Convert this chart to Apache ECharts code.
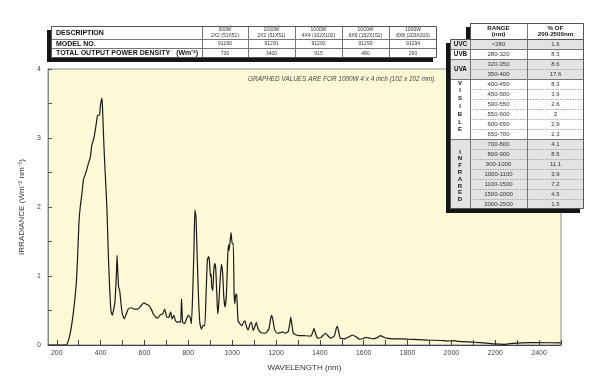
<!DOCTYPE html>
<html><head><meta charset="utf-8">
<script src="https://cdn.jsdelivr.net/npm/echarts@6/dist/echarts.min.js"></script>
<style>html,body{margin:0;padding:0;background:#fff;}#c{width:600px;height:384px;}</style>
</head><body><div id="c"></div>
<script>
// ---- spectrum data ----
const wavelengthNm = [160,200,240,248,261,276,289,295,301,307,315,322,334,345,353,360,368,376,383,386,395,398,405,408,414,418,424,429,435,441,447,453,460,466,472,475,478,482,487,493,499,508,517,526,539,554,569,582,597,609,621,631,640,650,661,673,683,692,701,711,719,726,734,742,750,757,765,769,774,783,792,800,808,814,820,826,830,835,841,847,853,860,866,875,881,887,892,896,901,904,907,912,916,921,925,930,934,939,945,951,957,962,968,974,979,983,986,991,995,1000,1005,1009,1012,1017,1021,1027,1035,1044,1052,1058,1066,1073,1082,1088,1096,1103,1110,1118,1130,1153,1168,1176,1180,1186,1194,1206,1221,1229,1240,1255,1263,1267,1272,1279,1298,1328,1359,1368,1373,1380,1389,1405,1426,1435,1450,1466,1475,1480,1486,1493,1512,1534,1549,1565,1580,1595,1609,1626,1645,1664,1676,1690,1708,1740,1771,1800,1850,1892,1950,1999,2015,2030,2105,2150,2197,2243,2281,2319,2400,2500];
const irradiance = [0,0,0,0.02,0.16,0.48,0.89,1.28,1.76,2.0,2.2,2.4,2.51,2.64,2.72,2.9,2.98,3.12,3.27,3.33,3.33,3.44,3.58,3.49,2.98,2.68,2.3,1.96,1.33,0.84,0.5,0.43,0.52,0.65,1.03,1.3,1.08,0.84,0.79,0.6,0.45,0.38,0.45,0.52,0.54,0.52,0.52,0.56,0.61,0.59,0.57,0.52,0.45,0.41,0.39,0.44,0.45,0.52,0.41,0.4,0.48,0.38,0.43,0.35,0.33,0.34,0.33,0.67,0.33,0.31,0.38,0.43,0.4,0.31,0.74,1.42,1.96,1.86,1.23,0.65,0.31,0.23,0.28,0.28,0.74,1.23,1.28,1.23,0.99,1.03,0.84,0.79,1.08,1.18,1.11,0.74,0.45,0.6,0.94,1.17,1.03,0.69,0.55,0.74,1.23,1.45,1.37,1.52,1.63,1.47,1.47,0.74,0.6,0.74,0.72,0.35,0.31,0.28,0.33,0.35,0.26,0.22,0.31,0.33,0.21,0.26,0.33,0.24,0.18,0.17,0.24,0.39,0.43,0.36,0.22,0.17,0.18,0.19,0.17,0.19,0.31,0.4,0.31,0.17,0.14,0.135,0.13,0.19,0.24,0.17,0.1,0.11,0.17,0.14,0.1,0.13,0.24,0.27,0.19,0.1,0.09,0.12,0.145,0.12,0.085,0.09,0.11,0.1,0.09,0.11,0.135,0.115,0.095,0.088,0.09,0.085,0.078,0.072,0.065,0.058,0.062,0.052,0.04,0.03,0.015,0.01,0.024,0.032,0.034,0.03];
const xTickValues = [200,300,400,500,600,700,800,900,1000,1100,1200,1300,1400,1500,1600,1700,1800,1900,2000,2100,2200,2300,2400,2500];
const xLabelValues = [200,400,600,800,1000,1200,1400,1600,1800,2000,2200,2400];
const yLabelValues = [0,1,2,3,4];

// ---- top table ----
const descHeader = 'DESCRIPTION';
const rowLabels = ['MODEL NO.', 'TOTAL OUTPUT POWER DENSITY'];
const lampWatts = ['300W','1000W','1000W','1000W','1000W'];
const lampSizes = ['2X2 (51X51)','2X2 (51X51)','4X4 (102X102)','6X6 (152X152)','8X8 (203X203)'];
const modelNos = ['91260','91291','91292','91293','91294'];
const powerDensity = ['730','3400','915','490','290'];

// ---- right table ----
const rangeLabels = ['<280','280-320','320-350','350-400','400-450','450-500','500-550','550-600','600-650','650-700','700-800','800-900','900-1000','1000-1100','1100-1500','1500-2000','2000-2500'];
const rangePct = ['1.6','8.3','8.6','17.6','8.3','3.9','2.6','3','2.9','2.3','4.1','8.5','11.1','3.9','7.2','4.5','1.5'];
const bandNames = ['UVC','UVB','UVA','VISIBLE','INFRARED'];
const bandRows = [1,1,2,6,7];

const FF = '"Liberation Sans", Arial, sans-serif';
const el = [];
function rect(x,y,w,h,fill,stroke,lw){el.push({type:'rect',silent:true,shape:{x:x,y:y,width:w,height:h},style:{fill:fill||'none',stroke:stroke||null,lineWidth:lw||0}});}
function line(x1,y1,x2,y2,stroke,lw,dash){el.push({type:'line',silent:true,shape:{x1:x1,y1:y1,x2:x2,y2:y2},style:{stroke:stroke,lineWidth:lw||1,lineDash:dash||null}});}
function text(x,y,t,font,align,fill){el.push({type:'text',silent:true,x:x,y:y,style:{text:t,font:font,align:align||'center',verticalAlign:'middle',fill:fill||'#222'}});}

// top table
const tx0=51, tx1=437, ty=[26,39,48,58];
const colX=[202,248,295,342,389,437];
rect(47,30,tx1-tx0,32,'#151515');
rect(tx0,ty[0],tx1-tx0,ty[3]-ty[0],'#fff');
line(tx0,ty[1]+0.5,tx1,ty[1]+0.5,'#777',1);
line(tx0,ty[2]+0.5,tx1,ty[2]+0.5,'#777',1);
for(let i=0;i<5;i++) line(colX[i]+0.5,ty[0],colX[i]+0.5,ty[3],'#777',1);
rect(tx0+0.5,ty[0]+0.5,tx1-tx0-1,ty[3]-ty[0]-1,null,'#555',1);
text(56,32.8,descHeader,'bold 7px '+FF,'left','#111');
text(56,44,rowLabels[0],'bold 7px '+FF,'left','#111');
text(56,53.3,rowLabels[1],'bold 7px '+FF,'left','#111');
text(198,53.3,'(Wm\u207B\u00B2)','bold 7px '+FF,'right','#111');
for(let i=0;i<5;i++){
  const cx=(colX[i]+colX[i+1])/2;
  text(cx,30,lampWatts[i],'5px '+FF,'center','#333');
  text(cx,35.2,lampSizes[i],'5px '+FF,'center','#333');
  text(cx,44,modelNos[i],'5px '+FF,'center','#333');
  text(cx,53.3,powerDensity[i],'5px '+FF,'center','#333');
}

// right table
const rx0=450, rxc=470, rxm=527, rx1=584, hy0=23, by0=39, rh=10;
const nRows=rangeLabels.length, by1=by0+nRows*rh;
rect(466,27,rx1-rxc,by0-hy0,'#151515');
rect(446,by0+4,rx1-rx0,by1-by0,'#151515');
rect(rxc,hy0,rx1-rxc,by0-hy0,'#fff');
let start=0;
const bandFill=['#e3e3e3','#fff','#e3e3e3','#fff','#e3e3e3'];
bandNames.forEach((b,i)=>{rect(rx0,by0+start*rh,rx1-rx0,bandRows[i]*rh,bandFill[i]);start+=bandRows[i];});
start=0;
const groupStarts=new Set();
bandRows.forEach(n=>{groupStarts.add(start);start+=n;});
for(let k=1;k<nRows;k++){
  const y=by0+k*rh+0.5;
  if(groupStarts.has(k)) line(rx0,y,rx1,y,'#777',1);
  else line(rxc,y,rx1,y,'#999',0.8,[1.5,1]);
}
line(rxc+0.5,hy0,rxc+0.5,by1,'#777',1);
line(rxm+0.5,hy0,rxm+0.5,by1,'#777',1);
rect(rxc+0.5,hy0+0.5,rx1-rxc-1,by0-hy0,null,'#555',1);
rect(rx0+0.5,by0+0.5,rx1-rx0-1,by1-by0-1,null,'#555',1);
text((rxc+rxm)/2,27.8,'RANGE','bold 6.2px '+FF,'center','#111');
text((rxc+rxm)/2,34.6,'(nm)','bold 6.2px '+FF,'center','#111');
text((rxm+rx1)/2,27.8,'% OF','bold 6.2px '+FF,'center','#111');
text((rxm+rx1)/2,34.6,'200-2500nm','bold 6.2px '+FF,'center','#111');
for(let k=0;k<nRows;k++){
  const cy=by0+k*rh+5.3;
  text((rxc+rxm)/2,cy,rangeLabels[k],'6px '+FF,'center','#333');
  text((rxm+rx1)/2,cy,rangePct[k],'6px '+FF,'center','#333');
}
start=0;
bandNames.forEach((b,i)=>{
  const n=bandRows[i];
  if(b.length<=3){
    text((rx0+rxc)/2+0.5,by0+(start+n/2)*rh+0.3,b,'bold 6.3px '+FF,'center','#111');
  } else {
    const letters=b.split('');
    const step = b==='VISIBLE'?7.8:6.8;
    const y0 = b==='VISIBLE'?83:152;
    letters.forEach((ch,j)=>text((rx0+rxc)/2,y0+j*step,ch,'bold 6px '+FF,'center','#111'));
  }
  start+=n;
});
// note in plot
text(436,79,'GRAPHED VALUES ARE FOR 1000W 4 x 4 inch (102 x 102 mm).','italic 6.4px '+FF,'right','#444');

const chart = echarts.init(document.getElementById('c'), null, {renderer:'canvas'});
chart.setOption({
  animation:false,
  backgroundColor:'#fff',
  grid:{left:48,right:39,top:69,bottom:39,show:true,backgroundColor:'#fdf9d6',borderColor:'#8a8a8a',borderWidth:1},
  xAxis:{type:'value',min:160,max:2500,
    name:'WAVELENGTH (nm)',nameLocation:'middle',nameGap:19,
    nameTextStyle:{fontFamily:FF,fontSize:8,color:'#333'},
    axisLine:{lineStyle:{color:'#444',width:1}},
    axisTick:{inside:true,length:5,customValues:xTickValues,lineStyle:{color:'#444'}},
    axisLabel:{customValues:xLabelValues,formatter:v=>String(v),fontFamily:FF,fontSize:7,color:'#444',margin:5},
    splitLine:{show:false}},
  yAxis:{type:'value',min:0,max:4,interval:0.5,
    name:'IRRADIANCE (Wm\u207B\u00B2 nm\u207B\u00B9)',nameLocation:'middle',nameGap:22,
    nameTextStyle:{fontFamily:FF,fontSize:8,color:'#333'},
    axisLine:{show:true,lineStyle:{color:'#8a8a8a',width:1}},
    axisTick:{inside:true,length:4,lineStyle:{color:'#555'}},
    axisLabel:{customValues:yLabelValues,formatter:v=>String(v),fontFamily:FF,fontSize:7,color:'#444',margin:7},
    splitLine:{show:false}},
  series:[{type:'line',data:wavelengthNm.map((w,i)=>[w,irradiance[i]]),showSymbol:false,
    lineStyle:{color:'#1a1a1a',width:1.2},smooth:0.15}],
  graphic:el
});
</script></body></html>
